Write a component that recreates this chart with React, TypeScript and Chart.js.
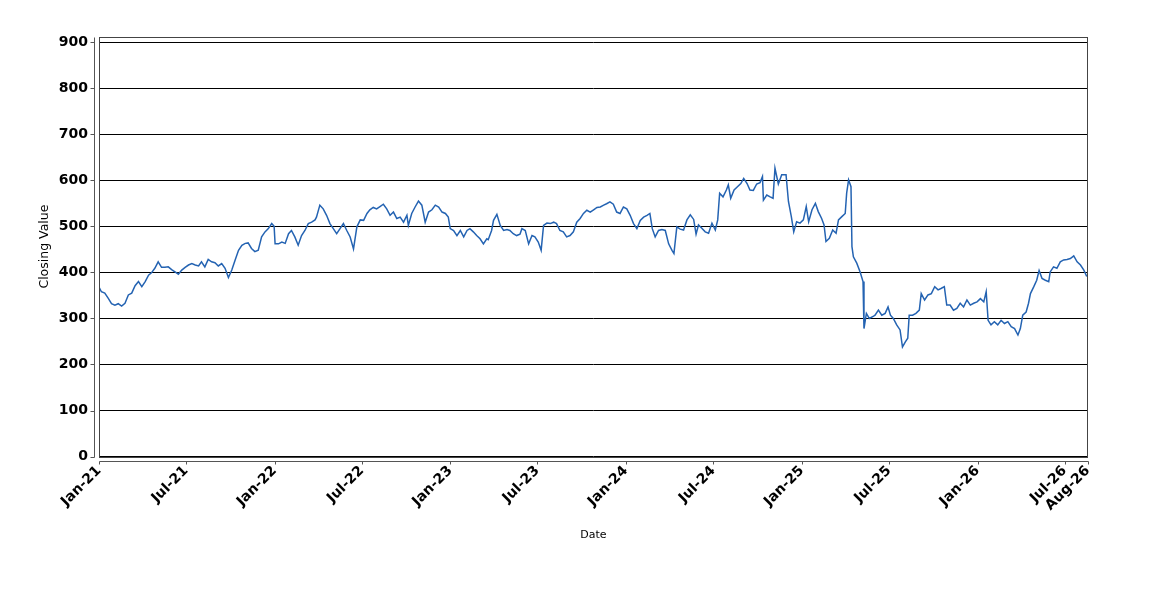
import { useEffect, useRef } from 'react';
import { Chart, registerables } from 'chart.js';

Chart.register(...registerables);

// days since 1 Jan 2021, sampled about once a week
const days = [
  0, 5, 12, 19, 26, 33, 40, 47, 54, 61, 68, 75, 82, 89, 96, 103, 109, 116, 123, 130,
  137, 144, 151, 158, 165, 172, 179, 186, 193, 200, 207, 213, 220, 227, 234, 241, 248, 255, 262, 269,
  276, 283, 290, 297, 304, 310, 317, 324, 331, 338, 345, 352, 359, 364, 366, 373, 380, 387, 394, 400,
  407, 414, 421, 428, 435, 442, 449, 452, 459, 466, 473, 480, 487, 494, 501, 508, 515, 522, 529, 536,
  543, 550, 557, 563, 570, 577, 584, 591, 598, 605, 612, 619, 626, 633, 640, 643, 650, 657, 664, 671,
  678, 685, 692, 699, 706, 713, 720, 726, 730, 737, 744, 751, 758, 765, 771, 778, 785, 792, 799, 806,
  809, 816, 820, 827, 834, 841, 848, 854, 861, 868, 875, 879, 886, 893, 900, 906, 913, 919, 924, 931,
  938, 945, 951, 958, 965, 972, 979, 986, 993, 1000, 1007, 1014, 1021, 1028, 1035, 1042, 1049, 1055, 1062, 1069,
  1076, 1083, 1090, 1097, 1104, 1111, 1118, 1125, 1132, 1139, 1145, 1150, 1156, 1163, 1170, 1177, 1184, 1191, 1195, 1201,
  1208, 1215, 1222, 1229, 1236, 1241, 1246, 1253, 1260, 1267, 1274, 1281, 1286, 1290, 1297, 1304, 1308, 1313, 1320, 1327,
  1334, 1340, 1347, 1353, 1360, 1367, 1374, 1379, 1381, 1388, 1395, 1401, 1405, 1412, 1419, 1428, 1433, 1439, 1444, 1450,
  1457, 1464, 1470, 1475, 1482, 1489, 1495, 1502, 1507, 1511, 1518, 1525, 1532, 1537, 1544, 1551, 1554, 1558, 1563, 1565,
  1568, 1575, 1582, 1588, 1590, 1595, 1601, 1610, 1613, 1620, 1627, 1634, 1640, 1645, 1651, 1658, 1665, 1670, 1676, 1681,
  1684, 1691, 1698, 1705, 1709, 1716, 1723, 1730, 1737, 1744, 1750, 1757, 1762, 1769, 1776, 1783, 1790, 1797, 1804, 1811,
  1818, 1825, 1832, 1839, 1844, 1848, 1854, 1861, 1868, 1875, 1882, 1889, 1896, 1903, 1910, 1915, 1920, 1927, 1932, 1936,
  1943, 1949, 1954, 1960, 1967, 1974, 1977, 1984, 1991, 1998, 2005, 2012, 2019, 2026, 2033, 2040, 2047, 2053,
];

const closing = [
  368, 358, 355, 344, 332, 329, 332, 327, 333, 351, 355, 371, 380, 369, 380, 394, 399, 409, 423, 411,
  411, 412, 406, 401, 396, 405, 411, 416, 419, 416, 414, 423, 412, 428, 423, 421, 414, 419, 409, 389,
  405, 427, 448, 459, 463, 464, 452, 445, 448, 477, 488, 495, 506, 500, 462, 462, 466, 463, 484, 491,
  477, 459, 480, 491, 506, 509, 514, 520, 546, 538, 524, 506, 495, 484, 495, 506, 491, 477, 451, 499,
  514, 513, 528, 536, 541, 538, 543, 548, 538, 524, 531, 517, 520, 509, 524, 502, 528, 542, 555, 546,
  509, 531, 536, 546, 542, 531, 528, 520, 495, 491, 480, 491, 477, 491, 495, 488, 480, 473, 462, 473,
  471, 491, 513, 526, 502, 491, 493, 491, 484, 480, 483, 495, 491, 462, 480, 477, 466, 448, 502, 507,
  506, 509, 506, 491, 488, 477, 480, 488, 509, 517, 528, 535, 531, 536, 541, 542, 546, 549, 553, 548,
  531, 528, 542, 538, 524, 506, 495, 513, 520, 524, 528, 495, 477, 491, 493, 491, 462, 448, 441, 499,
  494, 492, 514, 525, 515, 483, 503, 496, 488, 485, 507, 492, 514, 572, 564, 579, 590, 561, 579, 586,
  593, 604, 593, 579, 578, 592, 595, 608, 557, 568, 564, 561, 626, 592, 612, 612, 554, 521, 488, 510,
  507, 514, 543, 510, 536, 550, 532, 517, 503, 467, 474, 492, 485, 514, 521, 528, 572, 601, 586, 456,
  434, 420, 401, 380, 278, 311, 300, 305, 307, 318, 307, 311, 325, 307, 300, 286, 275, 238, 249, 257,
  307, 307, 311, 318, 354, 340, 351, 354, 369, 362, 365, 369, 329, 329, 318, 322, 333, 325, 340, 329,
  333, 336, 343, 336, 358, 296, 286, 293, 286, 296, 289, 293, 282, 278, 264, 278, 307, 314, 333, 354,
  369, 383, 404, 387, 383, 380, 401, 412, 409, 423, 427, 428, 430, 436, 423, 416, 405, 391,
];

const tickDays = [0, 181, 365, 546, 730, 911, 1095, 1277, 1461, 1642, 1826, 2007, 2055];
const tickLabels = [
  'Jan-21', 'Jul-21', 'Jan-22', 'Jul-22', 'Jan-23', 'Jul-23', 'Jan-24',
  'Jul-24', 'Jan-25', 'Jul-25', 'Jan-26', 'Jul-26', 'Aug-26',
];
const yTicks = [0, 100, 200, 300, 400, 500, 600, 700, 800, 900];

const tickFont = { family: 'DejaVu Sans', size: 14, weight: 'bold' as const };

// frame round the plot plus the offset axis lines and their tick marks
const axisFrame = {
  id: 'axisFrame',
  afterDraw(chart: any) {
    const { ctx, chartArea: a, scales } = chart;
    const l = Math.round(a.left) + 0.5;
    const r = Math.round(a.right) - 0.5;
    const t = Math.round(a.top) + 0.5;
    const b = Math.round(a.bottom) + 0.5;
    ctx.save();
    ctx.lineWidth = 1;
    ctx.strokeStyle = '#444';
    ctx.strokeRect(l, t, r - l, b - t);

    ctx.strokeStyle = '#555';
    ctx.beginPath();
    const ax = l - 5;
    ctx.moveTo(ax, t);
    ctx.lineTo(ax, b);
    yTicks.forEach(v => {
      const y = Math.round(scales.y.getPixelForValue(v)) + 0.5;
      ctx.moveTo(ax - 4, y);
      ctx.lineTo(ax, y);
    });
    const ay = b + 4;
    ctx.moveTo(l, ay);
    ctx.lineTo(r + 1, ay);
    tickDays.forEach(d => {
      const x = Math.round(scales.x.getPixelForValue(d)) + 0.5;
      ctx.moveTo(x, ay);
      ctx.lineTo(x, ay + 3);
    });
    ctx.stroke();
    ctx.restore();
  },
};

export default function App() {
  const canvasRef = useRef<HTMLCanvasElement>(null);
  const chartRef = useRef<Chart | null>(null);

  useEffect(() => {
    if (!canvasRef.current) return;
    if (chartRef.current) chartRef.current.destroy();

    chartRef.current = new Chart(canvasRef.current, {
      type: 'line',
      data: {
        datasets: [
          {
            label: 'Closing Value',
            data: days.map((d, i) => ({ x: d, y: closing[i] })),
            borderColor: 'rgb(36, 99, 178)',
            borderWidth: 1.5,
            pointRadius: 0,
            tension: 0,
            fill: false,
          },
        ],
      },
      options: {
        animation: false,
        responsive: true,
        maintainAspectRatio: false,
        layout: {
          padding: { left: 0, top: 36.6, right: 62.3, bottom: 43.4 },
        },
        plugins: {
          legend: { display: false },
          tooltip: { enabled: false },
        },
        scales: {
          x: {
            type: 'linear',
            min: 0,
            max: 2055,
            afterBuildTicks: (scale: any) => {
              scale.ticks = tickDays.map(v => ({ value: v }));
            },
            afterFit: (scale: any) => {
              scale.height = 100;
            },
            grid: { display: false, drawTicks: false },
            border: { display: false },
            ticks: {
              autoSkip: false,
              minRotation: 45,
              maxRotation: 45,
              padding: 6,
              color: '#000',
              font: tickFont,
              callback: (value: any) => {
                const i = tickDays.indexOf(Number(value));
                return i >= 0 ? tickLabels[i] : '';
              },
            },
            title: {
              display: true,
              text: 'Date',
              color: '#000',
              font: { family: 'DejaVu Sans', size: 11 },
              padding: { top: 0, bottom: 15 },
            },
          },
          y: {
            type: 'linear',
            min: 0,
            max: 912,
            afterBuildTicks: (scale: any) => {
              scale.ticks = yTicks.map(v => ({ value: v }));
            },
            afterFit: (scale: any) => {
              scale.width = 99;
            },
            grid: { color: '#000', lineWidth: 1, drawTicks: false },
            border: { display: false },
            ticks: {
              padding: 11,
              color: '#000',
              font: tickFont,
            },
            title: {
              display: true,
              text: 'Closing Value',
              color: '#000',
              font: { family: 'DejaVu Sans', size: 12.5 },
              padding: { top: 37.5, bottom: 0 },
            },
          },
        },
      },
      plugins: [axisFrame],
    });

    return () => {
      if (chartRef.current) {
        chartRef.current.destroy();
        chartRef.current = null;
      }
    };
  }, []);

  return (
    <div style={{ position: 'absolute', left: 0, top: 0, width: 1150, height: 600, background: '#fff' }}>
      <canvas ref={canvasRef} />
    </div>
  );
}
